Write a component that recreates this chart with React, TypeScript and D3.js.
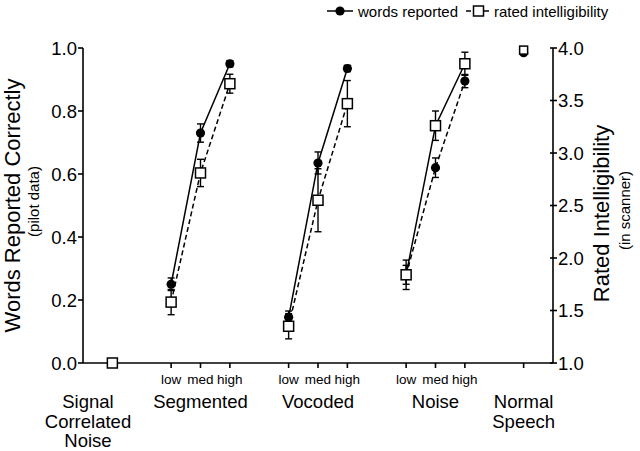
import React from "react";
import * as d3 from "d3";

const width = 640;
const height = 451;

// category positions along the x axis (index units)
const groupNames = ["Segmented", "Vocoded", "Noise"];
const levelNames = ["low", "med", "high"];
const groupStart = [2, 6, 10];
const signalPos = 0;
const normalPos = 14;

// words reported correctly (left axis, proportion)
const wordsSegmented = [0.25, 0.73, 0.95];
const wordsVocoded = [0.145, 0.635, 0.935];
const wordsNoise = [0.28, 0.62, 0.895];
const wordsSegmentedErr = [0.02, 0.029, 0.01];
const wordsVocodedErr = [0.02, 0.035, 0.01];
const wordsNoiseErr = [0.03, 0.031, 0.021];
const wordsSignal = 0;
const wordsNormal = 0.985;

// rated intelligibility (right axis, 1-4)
const ratedSegmented = [1.58, 2.81, 3.66];
const ratedVocoded = [1.35, 2.55, 3.47];
const ratedNoise = [1.84, 3.26, 3.85];
const ratedSegmentedErr = [0.12, 0.13, 0.09];
const ratedVocodedErr = [0.12, 0.3, 0.22];
const ratedNoiseErr = [0.14, 0.14, 0.11];
const ratedSignal = 1.0;
const ratedNormal = 3.98;

// in the noise group the solid line runs through the rated points
const wordsDashed = [false, false, true];

const leftTicks = [0, 0.2, 0.4, 0.6, 0.8, 1.0];
const rightTicks = [1.0, 1.5, 2.0, 2.5, 3.0, 3.5, 4.0];

const font = "'Liberation Sans', Arial, sans-serif";

const x = d3.scaleLinear().domain([-1, 15]).range([83, 553]);
const yL = d3.scaleLinear().domain([0, 1]).range([363, 48]);
const yR = d3.scaleLinear().domain([1, 4]).range([363, 48]);

const words = [wordsSegmented, wordsVocoded, wordsNoise];
const wordsErr = [wordsSegmentedErr, wordsVocodedErr, wordsNoiseErr];
const rated = [ratedSegmented, ratedVocoded, ratedNoise];
const ratedErr = [ratedSegmentedErr, ratedVocodedErr, ratedNoiseErr];

const line = d3.line<[number, number]>();

function Circle({ cx, cy }: { cx: number; cy: number }) {
  return <circle cx={cx} cy={cy} r={4.6} fill="#000" />;
}

function Square({ cx, cy, s = 10 }: { cx: number; cy: number; s?: number }) {
  return (
    <rect x={cx - s / 2} y={cy - s / 2} width={s} height={s} fill="#fff" stroke="#000" strokeWidth={1.5} />
  );
}

function ErrBar({ cx, y0, y1 }: { cx: number; y0: number; y1: number }) {
  return (
    <g stroke="#000" strokeWidth={1.4}>
      <line x1={cx} x2={cx} y1={y0} y2={y1} />
      <line x1={cx - 3.5} x2={cx + 3.5} y1={y0} y2={y0} />
      <line x1={cx - 3.5} x2={cx + 3.5} y1={y1} y2={y1} />
    </g>
  );
}

export default function App() {
  const lines: JSX.Element[] = [];
  const bars: JSX.Element[] = [];
  const circles: JSX.Element[] = [];
  const squares: JSX.Element[] = [];

  groupStart.forEach((g, gi) => {
    const xs = levelNames.map((_, i) => x(g + i));
    const wPts = xs.map((px, i) => [px, yL(words[gi][i])] as [number, number]);
    const rPts = xs.map((px, i) => [px, yR(rated[gi][i])] as [number, number]);
    lines.push(
      <path key={"w" + gi} d={line(wPts) || ""} fill="none" stroke="#000" strokeWidth={1.5}
        strokeDasharray={wordsDashed[gi] ? "5,3" : undefined} />
    );
    lines.push(
      <path key={"r" + gi} d={line(rPts) || ""} fill="none" stroke="#000" strokeWidth={1.5}
        strokeDasharray={wordsDashed[gi] ? undefined : "5,3"} />
    );
    xs.forEach((px, i) => {
      const w = words[gi][i];
      const we = wordsErr[gi][i];
      const r = rated[gi][i];
      const re = ratedErr[gi][i];
      bars.push(<ErrBar key={`we${gi}${i}`} cx={px} y0={yL(w + we)} y1={yL(w - we)} />);
      bars.push(<ErrBar key={`re${gi}${i}`} cx={px} y0={yR(r + re)} y1={yR(r - re)} />);
      circles.push(<Circle key={`c${gi}${i}`} cx={px} cy={yL(w)} />);
      squares.push(<Square key={`s${gi}${i}`} cx={px} cy={yR(r)} />);
    });
  });

  circles.push(<Circle key="cs" cx={x(signalPos)} cy={yL(wordsSignal)} />);
  circles.push(<Circle key="cn" cx={x(normalPos)} cy={yL(wordsNormal)} />);
  squares.push(<Square key="ss" cx={x(signalPos)} cy={yR(ratedSignal)} />);
  squares.push(<Square key="sn" cx={x(normalPos)} cy={yR(ratedNormal)} s={8} />);

  const catTicks = [
    signalPos,
    ...groupStart.flatMap((g) => [g, g + 1, g + 2]),
    normalPos,
  ];

  const textProps = { fontFamily: font, fill: "#000" };

  return (
    <svg width={width} height={height} style={{ position: "absolute", left: 0, top: 0 }}>
      <rect width={width} height={height} fill="#fff" />

      {/* axes */}
      <g stroke="#000" strokeWidth={1.6}>
        <line x1={x(-1)} x2={x(-1)} y1={yL(1)} y2={yL(0)} />
        <line x1={x(15)} x2={x(15)} y1={yR(4)} y2={yR(1)} />
        <line x1={x(-1)} x2={x(15)} y1={yL(0)} y2={yL(0)} />
        {leftTicks.map((t) => (
          <line key={"lt" + t} x1={x(-1) - 5} x2={x(-1)} y1={yL(t)} y2={yL(t)} />
        ))}
        {rightTicks.map((t) => (
          <line key={"rt" + t} x1={x(15) - 3} x2={x(15) + 4} y1={yR(t)} y2={yR(t)} />
        ))}
        {catTicks.map((c) => (
          <line key={"ct" + c} x1={x(c)} x2={x(c)} y1={yL(0)} y2={yL(0) + 5} />
        ))}
      </g>

      {leftTicks.map((t) => (
        <text key={"ll" + t} {...textProps} x={x(-1) - 6} y={yL(t) + 6.5} fontSize={18.5} textAnchor="end">
          {d3.format(".1f")(t)}
        </text>
      ))}
      {rightTicks.map((t) => (
        <text key={"rl" + t} {...textProps} x={x(15) + 5} y={yR(t) + 6.5} fontSize={18.5} textAnchor="start">
          {d3.format(".1f")(t)}
        </text>
      ))}

      {/* axis titles */}
      <text {...textProps} fontSize={22} textAnchor="middle" transform={`translate(20,${yL(0.5)}) rotate(-90)`}>
        Words Reported Correctly
      </text>
      <text {...textProps} fontSize={15} textAnchor="middle" transform={`translate(39,${yL(0.5) - 4}) rotate(-90)`}>
        (pilot data)
      </text>
      <text {...textProps} fontSize={22} textAnchor="middle" transform={`translate(609,${yR(2.5) + 8}) rotate(-90)`}>
        Rated Intelligibility
      </text>
      <text {...textProps} fontSize={15} textAnchor="middle" transform={`translate(630,${yR(2.5) + 5}) rotate(-90)`}>
        (in scanner)
      </text>

      {/* category labels */}
      {groupStart.map((g, gi) => (
        <g key={"gl" + gi}>
          {levelNames.map((l, i) => (
            <text key={l} {...textProps} x={x(g + i)} y={384} fontSize={13.5} textAnchor="middle">
              {l}
            </text>
          ))}
          <text {...textProps} x={x(g + 1)} y={408} fontSize={18.5} textAnchor="middle">
            {groupNames[gi]}
          </text>
        </g>
      ))}
      {["Signal", "Correlated", "Noise"].map((s, i) => (
        <text key={s} {...textProps} x={88} y={408 + i * 19.5} fontSize={18.5} textAnchor="middle">
          {s}
        </text>
      ))}
      {["Normal", "Speech"].map((s, i) => (
        <text key={s} {...textProps} x={x(normalPos)} y={408 + i * 19.5} fontSize={18.5} textAnchor="middle">
          {s}
        </text>
      ))}

      {/* data */}
      {lines}
      {bars}
      {circles}
      {squares}

      {/* legend */}
      <g>
        <line x1={327} x2={353} y1={11} y2={11} stroke="#000" strokeWidth={1.5} />
        <Circle cx={340} cy={11} />
        <text {...textProps} x={358} y={16.5} fontSize={15}>words reported</text>
        <line x1={466} x2={491} y1={11} y2={11} stroke="#000" strokeWidth={1.5} strokeDasharray="5,4" />
        <Square cx={478.5} cy={11} />
        <text {...textProps} x={494} y={16.5} fontSize={15}>rated intelligibility</text>
      </g>
    </svg>
  );
}
